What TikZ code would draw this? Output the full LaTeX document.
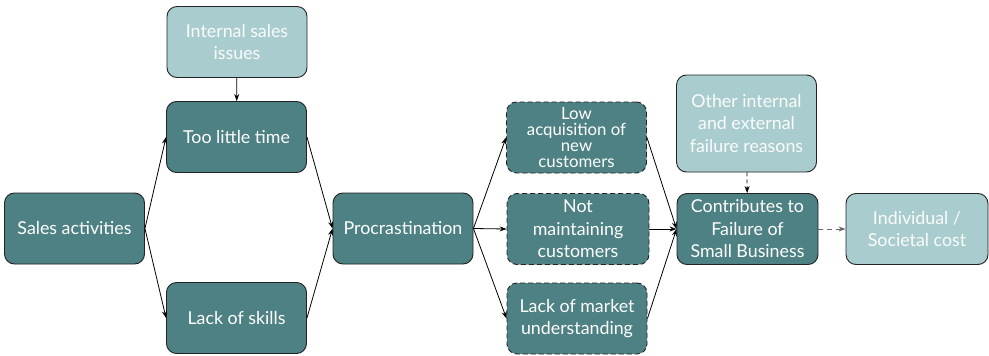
\documentclass[tikz,border=0pt]{standalone}
\usepackage{fontspec}
\setmainfont{Lato}
\usetikzlibrary{arrows.meta}
\definecolor{darkteal}{HTML}{4E8183}
\definecolor{lightteal}{HTML}{A9CCCE}
\definecolor{edge}{HTML}{222222}
\begin{document}
\begin{tikzpicture}[x=1pt,y=-1pt,
  base/.style={rounded corners=10pt, draw=edge, line width=0.9pt, minimum width=140pt, minimum height=71pt, inner sep=1pt, align=center, text=white, font=\fontsize{17.8}{22.5}\selectfont},
  darkbox/.style={base, fill=darkteal},
  dashbox/.style={base, fill=darkteal, dash pattern=on 5pt off 3pt},
  lightbox/.style={base, fill=lightteal, text=white!95!lightteal},
  arr/.style={-{Stealth[length=7pt,width=5pt]}, line width=0.8pt, draw=black},
  darr/.style={arr, dash pattern=on 4pt off 3pt},
  garr/.style={-{Stealth[length=7pt,width=5pt]}, line width=0.9pt, draw=gray!80!black, dash pattern=on 5pt off 4pt}
]
\useasboundingbox (0,0) rectangle (989,356);
\node[darkbox] (sales) at (74.5,228.5) {Sales activities};
\node[lightbox] (internal) at (237,42) {Internal sales\\issues};
\node[darkbox] (time) at (236.5,137) {Too little time};
\node[darkbox] (skills) at (236.5,318) {Lack of skills};
\node[darkbox] (proc) at (403,228.5) {Procrastination};
\node[dashbox, font=\fontsize{16.8}{16}\selectfont] (low) at (576.5,137.5) {Low\\acquisition of\\new\\customers};
\node[dashbox, minimum width=142pt] (notm) at (578,229) {Not\\maintaining\\customers};
\node[dashbox] (market) at (577,318.5) {Lack of market\\understanding};
\node[lightbox, minimum height=97pt] (other) at (746.5,123.5) {Other internal\\and external\\failure reasons};
\node[darkbox, minimum width=141pt] (contrib) at (747.5,229) {Contributes to\\Failure of\\Small Business};
\node[lightbox, minimum width=142pt] (indiv) at (917,229) {Individual /\\Societal cost};

\draw[arr] (internal) -- (time);
\draw[arr] (sales.east) -- (time.west);
\draw[arr] (sales.east) -- (skills.west);
\draw[arr] (time.east) -- (proc.west);
\draw[arr] (skills.east) -- (proc.west);
\draw[arr] (proc.east) -- (low.west);
\draw[arr] (proc.east) -- (notm.west);
\draw[arr] (proc.east) -- (market.west);
\draw[arr] (low.east) -- (contrib.west);
\draw[arr] (notm.east) -- (contrib.west);
\draw[arr] (market.east) -- (contrib.west);
\draw[darr] (other) -- (contrib);
\draw[garr] (contrib) -- (indiv);
\end{tikzpicture}
\end{document}
